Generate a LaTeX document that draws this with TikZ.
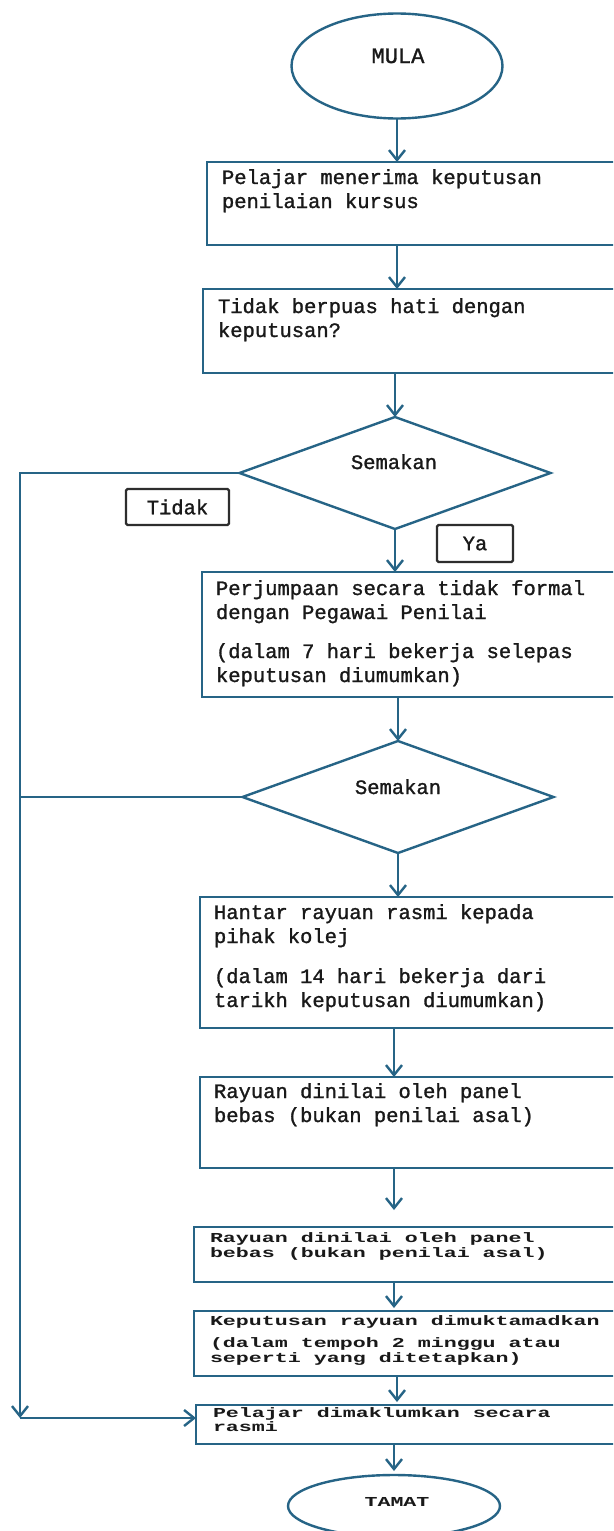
\documentclass[tikz,border=0pt]{standalone}
\usepackage{fontspec}
\usepackage{graphicx}
\newfontfamily\monof[FakeBold=1.3]{Liberation Mono}
\newfontfamily\monos{Liberation Mono}
\usetikzlibrary{shapes.geometric,arrows.meta}
\definecolor{flowc}{RGB}{38,100,134}
\definecolor{ink}{RGB}{25,25,25}
\definecolor{lblc}{RGB}{45,45,45}
\newcommand{\bigt}[1]{\parbox[t]{420pt}{\monof\fontsize{20.5}{24}\selectfont #1}}
\newcommand{\smallt}[1]{\scalebox{1.58}[1]{\parbox[t]{260pt}{\monos\bfseries\fontsize{13.7}{15}\selectfont #1}}}
\begin{document}
\begin{tikzpicture}[x=1pt,y=-1pt,
  conn/.style={draw=flowc, line width=2.8pt},
  arr/.style={conn, -{Straight Barb[length=10pt,width=16pt,line width=2.4pt]}},
  boxn/.style={draw=flowc, line width=2.4pt, rectangle, anchor=north west, inner sep=0, outer sep=0, minimum width=440pt},
  txt/.style={text=ink, inner sep=0, outer sep=0, anchor=base west},
  ctxt/.style={text=ink, inner sep=0, outer sep=0, anchor=base},
  term/.style={draw=flowc, line width=2.4pt, ellipse, inner sep=0, outer sep=0},
  dec/.style={draw=flowc, line width=2.4pt, diamond, inner sep=0, outer sep=0, minimum width=311pt, minimum height=112pt},
  lbl/.style={draw=lblc, line width=2.4pt, rounded corners=1.5pt, rectangle, inner sep=0, text=ink, font=\monof\fontsize{20.5}{24}\selectfont}
]
\useasboundingbox (0,0) rectangle (613,1531);
\fill[white] (0,0) rectangle (613,1531);
\clip (0,0) rectangle (613,1531);

% terminals
\node[term, minimum width=211pt, minimum height=105pt] (mula) at (397,66) {};
\node[ctxt, font=\monof\fontsize{22}{24}\selectfont] (mulat) at (398,63) {MULA};
\node[term, minimum width=212pt, minimum height=62pt] (tamat) at (394,1506) {};
\node[ctxt] (tamatt) at (397,1506) {\scalebox{1.58}[1]{\monos\bfseries\fontsize{13.7}{15}\selectfont TAMAT}};

% boxes
\node[boxn, minimum height=83pt] (b1) at (207,162) {};
\node[txt] (t1) at (222,184) {\bigt{Pelajar menerima keputusan\\penilaian kursus}};

\node[boxn, minimum height=84pt] (b2) at (203,289) {};
\node[txt] (t2) at (218,313) {\bigt{Tidak berpuas hati dengan\\keputusan?}};

\node[dec] (d1) at (395,473) {};
\node[ctxt, font=\monof\fontsize{20.5}{24}\selectfont] (d1t) at (394,469) {Semakan};

\node[lbl, minimum width=103pt, minimum height=36pt] (tidak) at (177.5,507) {Tidak};
\node[lbl, minimum width=76pt, minimum height=37pt] (ya) at (475,543.5) {Ya};

\node[boxn, minimum height=125pt] (b3) at (202,572) {};
\node[txt] (t3) at (216,595) {\bigt{Perjumpaan secara tidak formal\\dengan Pegawai Penilai\\[15pt](dalam 7 hari bekerja selepas\\keputusan diumumkan)}};

\node[dec] (d2) at (398,797) {};
\node[ctxt, font=\monof\fontsize{20.5}{24}\selectfont] (d2t) at (398,794) {Semakan};

\node[boxn, minimum height=131pt] (b4) at (200,897) {};
\node[txt] (t4) at (214,919) {\bigt{Hantar rayuan rasmi kepada\\pihak kolej\\[16pt](dalam 14 hari bekerja dari\\tarikh keputusan diumumkan)}};

\node[boxn, minimum height=91pt] (b5) at (200,1077) {};
\node[txt] (t5) at (214,1098) {\bigt{Rayuan dinilai oleh panel\\bebas (bukan penilai asal)}};

\node[boxn, minimum height=55pt] (b6) at (194,1227) {};
\node[txt] (t6) at (210,1242) {\smallt{Rayuan dinilai oleh panel\\bebas (bukan penilai asal)}};

\node[boxn, minimum height=65pt] (b7) at (194,1311) {};
\node[txt] (t7) at (210,1325) {\smallt{Keputusan rayuan dimuktamadkan\\[7pt](dalam tempoh 2 minggu atau\\seperti yang ditetapkan)}};

\node[boxn, minimum height=39pt] (b8) at (196,1405) {};
\node[txt] (t8) at (213,1417) {\smallt{Pelajar dimaklumkan secara\\[-1pt]rasmi}};

% main flow
\draw[arr] (mula.south) -- (mula.south |- b1.north);
\draw[arr] (b1.south -| mula) -- (b2.north -| mula);
\draw[arr] (b2.south -| d1) -- (d1.north);
\draw[arr] (d1.south) -- (d1.south |- b3.north);
\draw[arr] (b3.south -| d2) -- (d2.north);
\draw[arr] (d2.south) -- (d2.south |- b4.north);
\draw[arr] (b4.south -| tamat) -- (b5.north -| tamat);
\draw[arr, shorten >=17pt] (b5.south -| tamat) -- (b6.north -| tamat);
\draw[arr, shorten >=3pt] (b6.south -| tamat) -- (b7.north -| tamat);
\draw[arr, shorten >=3pt] (b7.south -| mula) -- (b8.north -| mula);
\draw[arr, shorten >=4pt] (b8.south -| tamat) -- (tamat.north);

% "Tidak" return line
\coordinate (lc1) at (20,473);
\coordinate (lc2) at (20,1418);
\draw[arr] (d1.west) -- (lc1) -- (lc2);
\draw[conn] (d2.west) -- (d2.west -| lc1);
\draw[arr, line width=2.2pt] (lc2) -- (lc2 -| b8.west);
\end{tikzpicture}
\end{document}
